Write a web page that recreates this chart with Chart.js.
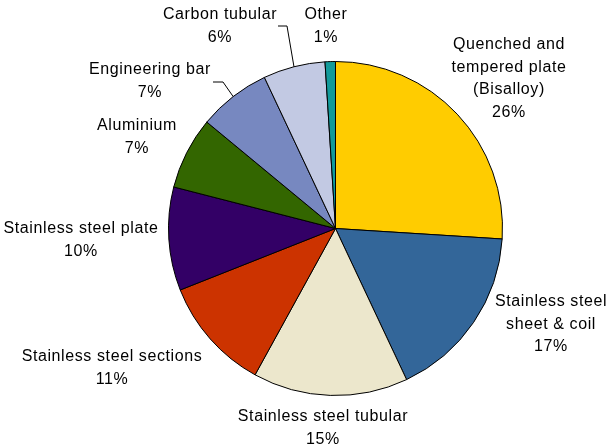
<!DOCTYPE html>
<html>
<head>
  <meta charset="utf-8">
  <title>Product mix</title>
  <script src="https://cdn.jsdelivr.net/npm/chart.js"></script>
  <style>
    body { margin: 0; padding: 0; background: #fff; }
    #wrap { width: 607px; height: 448px; }
  </style>
</head>
<body>
  <div id="wrap"><canvas id="pie" width="607" height="448"></canvas></div>

  <script>
    // Share of sales by product (%)
    const categories = [
      ['Quenched and', 'tempered plate', '(Bisalloy)'],
      ['Stainless steel', 'sheet & coil'],
      ['Stainless steel tubular'],
      ['Stainless steel sections'],
      ['Stainless steel plate'],
      ['Aluminium'],
      ['Engineering bar'],
      ['Carbon tubular'],
      ['Other']
    ];
    const shares = [26, 17, 15, 11, 10, 7, 7, 6, 1];
    const sliceColors = [
      '#FFCC00', '#336699', '#ECE7CC', '#CC3300', '#330066',
      '#336600', '#7788C0', '#C2C9E3', '#129A9A'
    ];

    // where each label block is centred (x, y of first line)
    const labelSpots = [
      [509, 45], [551, 302], [323, 417], [112, 357], [81, 229],
      [137, 126], [150, 70], [220, 15], [326, 15]
    ];
    // leader lines: start point and elbow, ending on the slice edge
    const leaders = {
      6: [[213, 82], [223, 82]],
      7: [[278, 26], [287, 26]]
    };

    const outsideLabels = {
      id: 'outsideLabels',
      afterDraw(chart) {
        const ctx = chart.ctx;
        const arcs = chart.getDatasetMeta(0).data;
        ctx.save();
        ctx.fillStyle = '#000';
        ctx.font = '16px "Liberation Sans", Arial, sans-serif';
        ctx.letterSpacing = '0.6px';
        ctx.textAlign = 'center';
        ctx.textBaseline = 'middle';
        const lineH = 22.5;
        categories.forEach((lines, i) => {
          const [x, y] = labelSpots[i];
          const all = lines.concat([shares[i] + '%']);
          all.forEach((t, k) => ctx.fillText(t, x, y + k * lineH));
        });

        ctx.strokeStyle = '#000';
        ctx.lineWidth = 1;
        Object.keys(leaders).forEach(key => {
          const arc = arcs[key];
          const mid = (arc.startAngle + arc.endAngle) / 2;
          const ex = arc.x + Math.cos(mid) * arc.outerRadius;
          const ey = arc.y + Math.sin(mid) * arc.outerRadius;
          const [a, b] = leaders[key];
          ctx.beginPath();
          ctx.moveTo(a[0], a[1]);
          ctx.lineTo(b[0], b[1]);
          ctx.lineTo(ex, ey);
          ctx.stroke();
        });
        ctx.restore();
      }
    };

    new Chart(document.getElementById('pie'), {
      type: 'pie',
      data: {
        labels: categories.map(l => l.join(' ')),
        datasets: [{
          data: shares,
          backgroundColor: sliceColors,
          borderColor: '#000',
          borderWidth: 1
        }]
      },
      options: {
        responsive: false,
        animation: false,
        layout: { padding: { top: 61, bottom: 52, left: 168, right: 104 } },
        plugins: {
          legend: { display: false },
          tooltip: { enabled: false }
        }
      },
      plugins: [outsideLabels]
    });
  </script>
</body>
</html>
